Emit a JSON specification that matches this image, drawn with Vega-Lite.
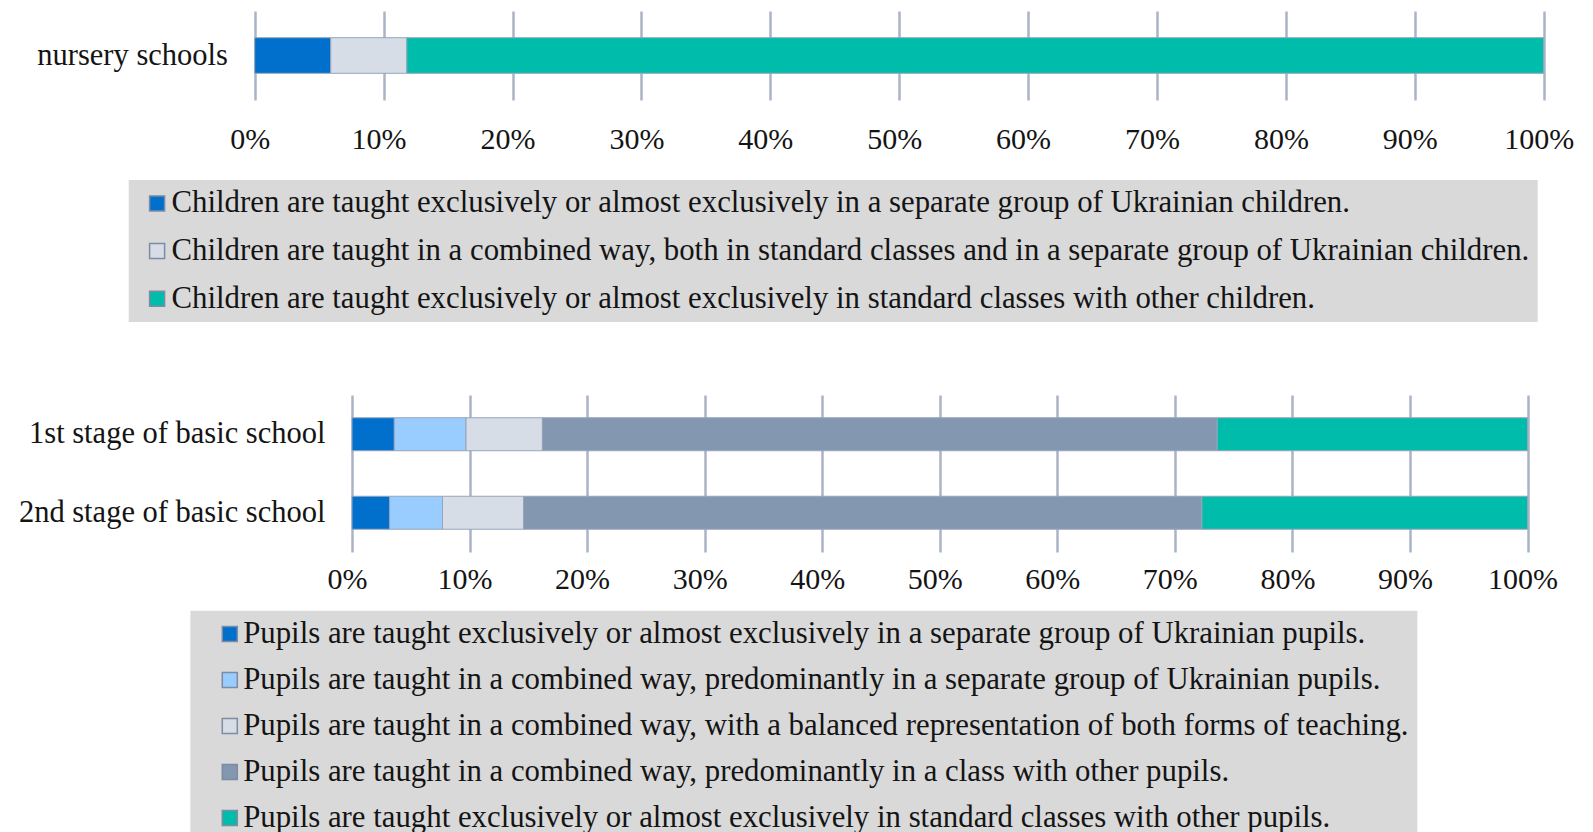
{
  "$schema": "https://vega.github.io/schema/vega-lite/v6.json",
  "padding": {"left": 10, "top": 11, "right": 0, "bottom": 0},
  "background": "white",
  "config": {"view": {"stroke": null}, "font": "Liberation Serif"},
  "datasets": {
    "nursery": [
      {"level": "nursery schools", "form": "Children are taught exclusively or almost exclusively in a separate group of Ukrainian children.", "ord": 1, "share": 5.9},
      {"level": "nursery schools", "form": "Children are taught in a combined way, both in standard classes and in a separate group of Ukrainian children.", "ord": 2, "share": 5.9},
      {"level": "nursery schools", "form": "Children are taught exclusively or almost exclusively in standard classes with other children.", "ord": 3, "share": 88.2}
    ],
    "basic": [
      {"level": "1st stage of basic school", "form": "Pupils are taught exclusively or almost exclusively in a separate group of Ukrainian pupils.", "ord": 1, "share": 3.6},
      {"level": "1st stage of basic school", "form": "Pupils are taught in a combined way, predominantly in a separate group of Ukrainian pupils.", "ord": 2, "share": 6.1},
      {"level": "1st stage of basic school", "form": "Pupils are taught in a combined way, with a balanced representation of both forms of teaching.", "ord": 3, "share": 6.5},
      {"level": "1st stage of basic school", "form": "Pupils are taught in a combined way, predominantly in a class with other pupils.", "ord": 4, "share": 57.4},
      {"level": "1st stage of basic school", "form": "Pupils are taught exclusively or almost exclusively in standard classes with other pupils.", "ord": 5, "share": 26.4},
      {"level": "2nd stage of basic school", "form": "Pupils are taught exclusively or almost exclusively in a separate group of Ukrainian pupils.", "ord": 1, "share": 3.2},
      {"level": "2nd stage of basic school", "form": "Pupils are taught in a combined way, predominantly in a separate group of Ukrainian pupils.", "ord": 2, "share": 4.5},
      {"level": "2nd stage of basic school", "form": "Pupils are taught in a combined way, with a balanced representation of both forms of teaching.", "ord": 3, "share": 6.9},
      {"level": "2nd stage of basic school", "form": "Pupils are taught in a combined way, predominantly in a class with other pupils.", "ord": 4, "share": 57.7},
      {"level": "2nd stage of basic school", "form": "Pupils are taught exclusively or almost exclusively in standard classes with other pupils.", "ord": 5, "share": 27.7}
    ]
  },
  "spacing": 73,
  "resolve": {
    "scale": {"color": "independent", "x": "independent", "y": "independent"},
    "legend": {"color": "independent"},
    "axis": {"x": "independent", "y": "independent"}
  },
  "vconcat": [
    {
      "width": 1191.7,
      "height": 89,
      "data": {"name": "nursery"},
      "mark": {"type": "bar", "stroke": "#97a5bb", "strokeWidth": 1},
      "encoding": {
        "y": {
          "field": "level", "type": "nominal",
          "scale": {"paddingInner": 0.6, "paddingOuter": 0.3},
          "axis": {"title": null, "domain": false, "ticks": false, "labelPadding": 124.6, "labelFontSize": 30.5, "labelColor": "#141414", "labelLimit": 600, "maxExtent": 600}
        },
        "x": {
          "field": "share", "type": "quantitative", "stack": "zero",
          "scale": {"domain": [0, 100], "nice": false, "range": [-97.3, 1191.7]},
          "axis": {"title": null, "values": [0, 10, 20, 30, 40, 50, 60, 70, 80, 90, 100], "labelExpr": "datum.value + '%'", "domain": false, "ticks": false, "tickSize": 0, "labelPadding": 24, "labelOffset": -5, "labelFontSize": 30, "labelColor": "#141414", "gridColor": "#aab4c6", "gridWidth": 2.5, "labelFlush": false, "labelOverlap": false}
        },
        "color": {
          "field": "form", "type": "nominal",
          "scale": {
            "domain": [
              "Children are taught exclusively or almost exclusively in a separate group of Ukrainian children.",
              "Children are taught in a combined way, both in standard classes and in a separate group of Ukrainian children.",
              "Children are taught exclusively or almost exclusively in standard classes with other children."
            ],
            "range": ["#0070cc", "#d6dde6", "#00bcaa"]
          },
          "legend": {"title": null, "orient": "none", "legendX": -223.3, "legendY": 169, "direction": "vertical", "fillColor": "#d9d9d9", "padding": 8, "symbolType": "square", "symbolSize": 225, "symbolStrokeColor": "#7d8ba3", "symbolStrokeWidth": 1.5, "symbolOffset": 5, "labelOffset": -1, "labelFontSize": 30.8, "labelColor": "#141414", "labelLimit": 1600, "rowPadding": 15.7, "symbolOpacity": 1}
        },
        "order": {"field": "ord"}
      }
    },
    {
      "width": 1175.5,
      "height": 157,
      "data": {"name": "basic"},
      "mark": {"type": "bar", "stroke": "#97a5bb", "strokeWidth": 1},
      "encoding": {
        "y": {
          "field": "level", "type": "nominal", "sort": ["1st stage of basic school", "2nd stage of basic school"],
          "scale": {"paddingInner": 0.58, "paddingOuter": 0.29},
          "axis": {"title": null, "domain": false, "ticks": false, "labelPadding": 27, "labelFontSize": 30.5, "labelColor": "#141414", "labelLimit": 600, "minExtent": 341.6, "maxExtent": 600}
        },
        "x": {
          "field": "share", "type": "quantitative", "stack": "zero",
          "scale": {"domain": [0, 100], "nice": false},
          "axis": {"title": null, "values": [0, 10, 20, 30, 40, 50, 60, 70, 80, 90, 100], "labelExpr": "datum.value + '%'", "domain": false, "ticks": false, "tickSize": 0, "labelPadding": 12, "labelOffset": -5, "labelFontSize": 30, "labelColor": "#141414", "gridColor": "#aab4c6", "gridWidth": 2.5, "labelFlush": false, "labelOverlap": false}
        },
        "color": {
          "field": "form", "type": "nominal",
          "scale": {
            "domain": [
              "Pupils are taught exclusively or almost exclusively in a separate group of Ukrainian pupils.",
              "Pupils are taught in a combined way, predominantly in a separate group of Ukrainian pupils.",
              "Pupils are taught in a combined way, with a balanced representation of both forms of teaching.",
              "Pupils are taught in a combined way, predominantly in a class with other pupils.",
              "Pupils are taught exclusively or almost exclusively in standard classes with other pupils."
            ],
            "range": ["#0070cc", "#99ccff", "#d6dde6", "#8497b0", "#00bcaa"]
          },
          "legend": {"title": null, "orient": "none", "legendX": -161.6, "legendY": 215.7, "direction": "vertical", "fillColor": "#d9d9d9", "padding": 8, "symbolType": "square", "symbolSize": 225, "symbolStrokeColor": "#7d8ba3", "symbolStrokeWidth": 1.5, "symbolOffset": 16, "labelOffset": -2, "labelFontSize": 30.8, "labelColor": "#141414", "labelLimit": 1600, "rowPadding": 14.0, "symbolOpacity": 1}
        },
        "order": {"field": "ord"}
      }
    }
  ]
}
